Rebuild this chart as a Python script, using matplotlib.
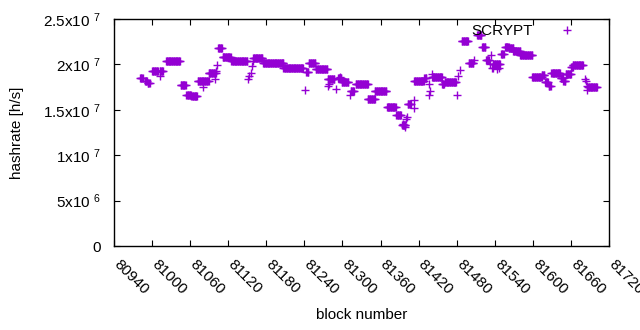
import numpy as np
import matplotlib
matplotlib.use("Agg")
import matplotlib.pyplot as plt
import matplotlib.transforms as mtransforms
from matplotlib.ticker import FixedLocator, FixedFormatter

plt.rcParams['font.family'] = ['Liberation Sans', 'DejaVu Sans']
plt.rcParams['mathtext.fontset'] = 'custom'
plt.rcParams['mathtext.rm'] = 'Liberation Sans'
plt.rcParams['mathtext.default'] = 'regular'

# runs of blocks sharing the same hashrate value
run_start = [80981, 80989, 80993, 81000, 81012, 81022, 81045, 81054, 81062, 81072,
             81089, 81104, 81111, 81125, 81159, 81175, 81207, 81243, 81247, 81258,
             81277, 81293, 81299, 81313, 81321, 81340, 81351, 81370, 81385, 81394,
             81403, 81413, 81429, 81441, 81457, 81461, 81488, 81499, 81512, 81520,
             81526, 81537, 81550, 81556, 81562, 81569, 81580, 81599, 81614, 81619,
             81625, 81629, 81644, 81648, 81652, 81660, 81663, 81687]
run_end = [80985, 80992, 80996, 81009, 81017, 81044, 81053, 81061, 81071, 81089,
           81100, 81110, 81124, 81150, 81174, 81207, 81238, 81246, 81257, 81276,
           81287, 81298, 81309, 81318, 81340, 81351, 81369, 81384, 81392, 81399,
           81408, 81428, 81432, 81457, 81460, 81479, 81498, 81506, 81519, 81525,
           81531, 81548, 81554, 81562, 81569, 81580, 81599, 81614, 81618, 81624,
           81628, 81643, 81648, 81651, 81660, 81663, 81679, 81701]
run_value = [1.852e7, 1.822e7, 1.793e7, 1.932e7, 1.932e7, 2.042e7, 1.775e7, 1.665e7, 1.647e7, 1.822e7,
             1.910e7, 2.181e7, 2.078e7, 2.042e7, 2.075e7, 2.020e7, 1.962e7, 1.921e7, 2.016e7, 1.951e7,
             1.841e7, 1.850e7, 1.811e7, 1.712e7, 1.786e7, 1.621e7, 1.712e7, 1.529e7, 1.438e7, 1.328e7,
             1.559e7, 1.822e7, 1.855e7, 1.866e7, 1.780e7, 1.811e7, 2.254e7, 2.016e7, 2.327e7, 2.195e7,
             2.049e7, 2.005e7, 2.115e7, 2.195e7, 2.181e7, 2.144e7, 2.104e7, 1.866e7, 1.888e7, 1.811e7,
             1.767e7, 1.902e7, 1.852e7, 1.815e7, 1.896e7, 1.968e7, 1.994e7, 1.749e7]

# isolated blocks
single_block = [81012, 81080, 81099, 81101, 81102, 81151, 81153, 81156, 81157, 81159,
                81241, 81277, 81279, 81290, 81296, 81312, 81395, 81397, 81399, 81400,
                81401, 81412, 81412, 81436, 81438, 81437, 81441, 81482, 81485, 81480,
                81507, 81534, 81532, 81535, 81537, 81543, 81546, 81682, 81684, 81685, 81686]
single_value = [1.877e7, 1.756e7, 1.841e7, 1.932e7, 1.998e7, 1.841e7, 1.877e7, 1.910e7, 1.987e7, 2.042e7,
                1.720e7, 1.767e7, 1.780e7, 1.731e7, 1.858e7, 1.668e7, 1.347e7, 1.328e7, 1.310e7, 1.394e7,
                1.419e7, 1.610e7, 1.523e7, 1.786e7, 1.712e7, 1.658e7, 1.896e7, 1.877e7, 1.940e7, 1.668e7,
                2.053e7, 2.104e7, 2.005e7, 1.962e7, 1.962e7, 1.951e7, 1.962e7, 1.841e7, 1.815e7, 1.767e7, 1.720e7]

xticks = list(range(80940, 81721, 60))
yticks = [0, 5e6, 1e7, 1.5e7, 2e7, 2.5e7]
ytick_labels = ['0', r'5x10 $^{6}$', r'1x10 $^{7}$', r'1.5x10 $^{7}$', r'2x10 $^{7}$', r'2.5x10 $^{7}$']

blocks = []
values = []
for s, e, v in zip(run_start, run_end, run_value):
    for b in range(s, e + 1):
        blocks.append(b)
        values.append(v)
blocks += single_block
values += single_value

color = '#9400D3'
fig = plt.figure(figsize=(6.4, 3.3), dpi=100)
ax = fig.add_axes([114/640, 1 - 246/330, (609-114)/640, (246-19)/330])
ax.plot(blocks, values, linestyle='none', marker='+', markersize=5.2,
        markeredgewidth=1.0, color=color, label='SCRYPT')

ax.set_xlim(80940, 81720)
ax.set_ylim(0, 2.5e7)
ax.xaxis.set_major_locator(FixedLocator(xticks))
ax.xaxis.set_major_formatter(FixedFormatter([str(t) for t in xticks]))
ax.yaxis.set_major_locator(FixedLocator(yticks))
ax.yaxis.set_major_formatter(FixedFormatter(ytick_labels))
ax.tick_params(direction='in', length=4.5, width=0.8, top=True, right=True,
               labelsize=11, colors='black')
ax.tick_params(axis='x', pad=8)
ax.tick_params(axis='y', pad=9.5)
offset = mtransforms.ScaledTranslation(7/100, 0, fig.dpi_scale_trans)
for lbl in ax.get_xticklabels():
    lbl.set_rotation(-45)
    lbl.set_ha('left')
    lbl.set_va('top')
    lbl.set_rotation_mode('anchor')
    lbl.set_transform(lbl.get_transform() + offset)
for sp in ax.spines.values():
    sp.set_linewidth(1.0)

ax.set_xlabel('block number', fontsize=11)
ax.set_ylabel('hashrate [h/s]', fontsize=11)
ax.xaxis.set_label_coords(0.5, (246-308)/227)
ax.yaxis.set_label_coords((24-114)/495, 0.5)

leg = ax.legend(loc='upper right', bbox_to_anchor=((582-114)/495, (246-24)/227),
                frameon=False, markerfirst=False, fontsize=11, borderpad=0,
                borderaxespad=0, handlelength=2.0, handletextpad=1.2)

fig.savefig('out.png', dpi=100)
